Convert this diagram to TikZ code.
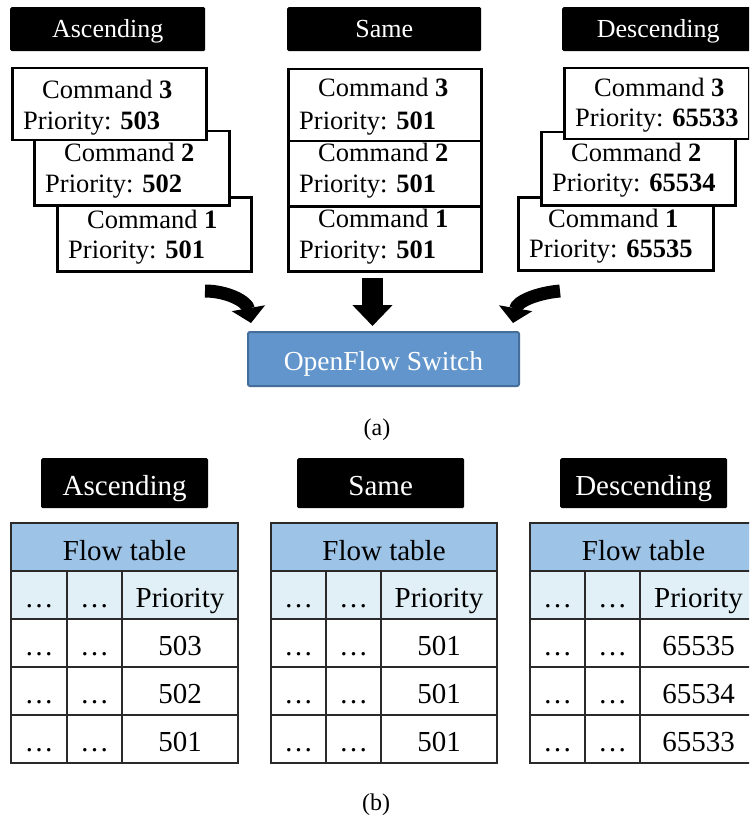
\documentclass[tikz,border=0pt]{standalone}
\usepackage{fontspec}
\setmainfont{Liberation Serif}
\usetikzlibrary{arrows.meta}
\definecolor{swfill}{RGB}{97,149,203}
\definecolor{swline}{RGB}{70,110,155}
\definecolor{hdrfill}{HTML}{9DC3E6}
\definecolor{subfill}{HTML}{E1F0F6}
\definecolor{gridcol}{HTML}{2A2A2A}
\tikzset{
  toplab/.style={fill=black, text=white, rounded corners=1.5pt, inner sep=0pt,
    minimum height=44pt, anchor=north west, font=\fontsize{26}{30}\selectfont,
    text height=19pt, text depth=2pt},
  botlab/.style={fill=black, text=white, rounded corners=1.5pt, inner sep=0pt,
    minimum height=50pt, minimum width=167pt, anchor=north west,
    font=\fontsize{29}{34}\selectfont, text height=26pt, text depth=2pt},
  cmdbox/.style={draw=black, line width=2.5pt, fill=white, inner sep=0pt, anchor=north west},
  txt/.style={inner sep=0pt, font=\fontsize{26.5}{31}\selectfont},
  ttxt/.style={inner sep=0pt, anchor=base, font=\fontsize{29}{34}\selectfont},
  grid/.style={draw=gridcol, line width=2pt},
  switchbox/.style={fill=swfill, draw=swline, line width=2pt, rounded corners=2pt,
    text=white, inner sep=0pt, minimum width=271pt, minimum height=54pt,
    font=\fontsize{27.5}{32}\selectfont, text height=24pt, text depth=2pt},
  curvearrow/.style={line width=13pt, -{Triangle[width=33pt,length=15pt]}},
  caption/.style={inner sep=0pt, anchor=base, font=\fontsize{24}{28}\selectfont}
}
% #1 name, #2 left x, #3 top y, #4 width, #5 height, #6 cmd num, #7 prio, #8 cmd baseline, #9 prio baseline
\newcommand\cbox[9]{%
  \node[cmdbox, minimum width=#4pt, minimum height=#5pt] (#1) at (#2,#3) {};
  \node[txt, anchor=base west] (#1c) at ({#2+31},#8) {Command \textbf{#6}};
  \node[txt, anchor=base west] (#1p) at ({#2+12},#9) {Priority: \textbf{#7}};
}
% #1 name, #2 x0, #3 x1, #4 x2, #5 x3, #6 #7 #8 numbers
\newcommand\ftable[8]{%
  \fill[hdrfill] (#2,523) rectangle (#5,571);
  \fill[subfill] (#2,571) rectangle (#5,619);
  \draw[grid] (#2,523) rectangle (#5,763);
  \foreach \yy in {571,619,667,715} {\draw[grid] (#2,\yy) -- (#5,\yy);}
  \draw[grid] (#3,571) -- (#3,763);
  \draw[grid] (#4,571) -- (#4,763);
  \node[ttxt] (#1h) at ({(#2+#5)/2},560) {Flow table};
  \node[ttxt] (#1pr) at ({(#4+#5)/2},607) {Priority};
  \node[ttxt] (#1a0) at ({(#2+#3)/2},607) {…};
  \node[ttxt] (#1b0) at ({(#3+#4)/2},607) {…};
  \node[ttxt] (#1a1) at ({(#2+#3)/2},655) {…};
  \node[ttxt] (#1b1) at ({(#3+#4)/2},655) {…};
  \node[ttxt] (#1n1) at ({(#4+#5)/2},655) {#6};
  \node[ttxt] (#1a2) at ({(#2+#3)/2},703) {…};
  \node[ttxt] (#1b2) at ({(#3+#4)/2},703) {…};
  \node[ttxt] (#1n2) at ({(#4+#5)/2},703) {#7};
  \node[ttxt] (#1a3) at ({(#2+#3)/2},751) {…};
  \node[ttxt] (#1b3) at ({(#3+#4)/2},751) {…};
  \node[ttxt] (#1n3) at ({(#4+#5)/2},751) {#8};
}
\begin{document}
\begin{tikzpicture}[x=1pt,y=-1pt]
\useasboundingbox (0,0) rectangle (749,821);
\clip (0,0) rectangle (749,821);
\fill[white] (0,0) rectangle (749,821);

% top labels
\node[toplab, minimum width=195pt] (tA) at (10,7) {Ascending};
\node[toplab, minimum width=194pt] (tS) at (287,7) {Same};
\node[toplab, minimum width=192pt] (tD) at (562,7) {Descending};

% ascending commands
\cbox{A1}{56}{196}{194}{74}{1}{501}{228}{258}
\cbox{A2}{33}{130}{195}{74}{2}{502}{162}{193}
\cbox{A3}{11}{67}{194}{72}{3}{503}{99}{130}

% same commands
\cbox{S1}{287}{205}{193}{65}{1}{501}{227}{258}
\cbox{S2}{287}{140}{193}{65}{2}{501}{161}{193}
\cbox{S3}{287}{68}{193}{72}{3}{501}{97}{130}

% descending commands
\cbox{D1}{517}{196}{195}{73}{1}{65535}{227}{257}
\cbox{D2}{540}{131}{194}{73}{2}{65534}{162}{192}
\cbox{D3}{563}{67}{185}{71}{3}{65533}{97}{127}

% switch
\node[switchbox] (sw) at (383.5,359) {OpenFlow Switch};

% arrows
\coordinate (lt) at (205,291);
\coordinate (lh) at (251,323);
\coordinate (rt) at (560,291);
\coordinate (rh) at (513,323);
\coordinate (ct) at (372.5,278);
\coordinate (ch) at (372.5,326);
\draw[curvearrow] (lt) to[out=0,in=100] (lh);
\draw[curvearrow] (rt) to[out=185,in=80] (rh);
\draw[line width=21pt, -{Triangle[width=39pt,length=21pt]}] (ct) -- (ch);

\node[caption] (capa) at (377,435) {(a)};

% bottom labels
\node[botlab] (bA) at (41,458) {Ascending};
\node[botlab] (bS) at (297,458) {Same};
\node[botlab] (bD) at (560,458) {Descending};

% tables
\ftable{TA}{11}{67}{122}{238}{503}{502}{501}
\ftable{TS}{271}{326}{381}{497}{501}{501}{501}
\ftable{TD}{530}{585}{640}{757}{65535}{65534}{65533}

\node[caption] (capb) at (376,810) {(b)};
\end{tikzpicture}
\end{document}
